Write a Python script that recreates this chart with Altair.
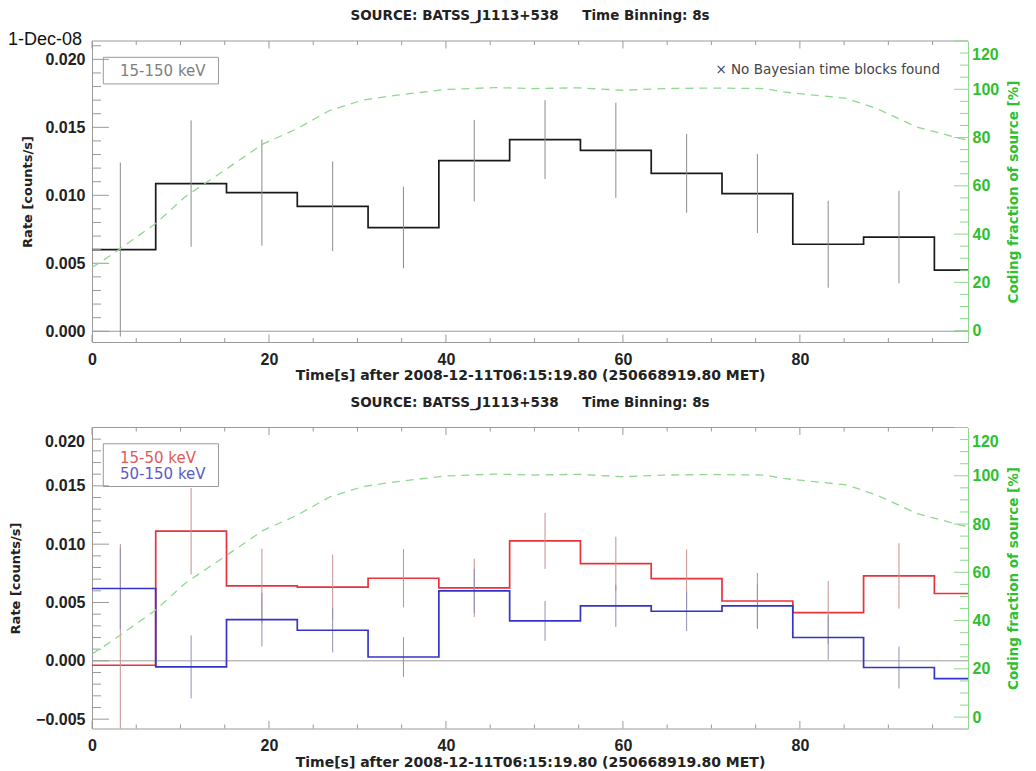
import altair as alt
import pandas as pd

W, H = 876, 301

# ---------------- data ----------------
EDGES = [0, 7.2, 15.2, 23.2, 31.2, 39.2, 47.2, 55.2, 63.2, 71.2, 79.2, 87.2, 95.2, 99]
CENTERS = [3.2, 11.2, 19.2, 27.2, 35.2, 43.2, 51.2, 59.2, 67.2, 75.2, 83.2, 91.2]

RATE_15_150 = [0.00601, 0.01086, 0.0102, 0.00919, 0.00763, 0.01255, 0.0141,
               0.01331, 0.01162, 0.01013, 0.0064, 0.00693, 0.00449]
ERR_15_150 = [0.0064, 0.00465, 0.0039, 0.0033, 0.003, 0.003, 0.0029,
              0.0035, 0.0029, 0.0029, 0.0032, 0.0034]

RATE_15_50 = [-0.00038, 0.01111, 0.00642, 0.00631, 0.00708, 0.00625, 0.01028,
              0.00834, 0.00705, 0.00513, 0.00414, 0.00728, 0.00577]
ERR_15_50 = [0.0104, 0.0037, 0.0032, 0.0028, 0.0025, 0.0025, 0.0024,
             0.0023, 0.0025, 0.0024, 0.0027, 0.0028]

RATE_50_150 = [0.0062, -0.00052, 0.00354, 0.00262, 0.00033, 0.00599, 0.00342,
               0.00471, 0.00425, 0.00471, 0.002, -0.00057, -0.00152]
ERR_50_150 = [0.0035, 0.0027, 0.0023, 0.0019, 0.0017, 0.0019, 0.0017,
              0.0018, 0.0017, 0.0019, 0.0019, 0.0018]

CF_T = [0, 2.0, 7.2, 10.5, 15.0, 19.3, 23.2, 26.9, 30.6, 34.3, 39.9, 45.5,
        50, 55, 60, 65, 70, 76.1, 78.1, 85.3, 88.7, 93.2, 98.1, 99]
CF_PCT = [26.2, 30.9, 44.4, 55.4, 66.5, 77.3, 83.7, 91.3, 95.5, 97.5, 99.9, 100.7,
          100.3, 100.6, 99.6, 100.3, 100.5, 100.3, 98.9, 96.2, 92.0, 84.4, 79.6, 79.0]

X_MAJOR = [0, 20, 40, 60, 80]
X_MINOR = [5, 10, 15, 25, 30, 35, 45, 50, 55, 65, 70, 75, 85, 90, 95]
P_MAJOR = [0, 20, 40, 60, 80, 100, 120]
P_MINOR = [5, 10, 15, 25, 30, 35, 45, 50, 55, 65, 70, 75, 85, 90, 95, 105, 110, 115]

TOP_Y_MAJOR = [0.0, 0.005, 0.01, 0.015, 0.02]
TOP_Y_MINOR = [0.001, 0.002, 0.003, 0.004, 0.006, 0.007, 0.008, 0.009, 0.011, 0.012,
               0.013, 0.014, 0.016, 0.017, 0.018, 0.019, 0.021]
BOT_Y_MAJOR = [-0.005, 0.0, 0.005, 0.01, 0.015, 0.02]
BOT_Y_MINOR = [-0.004, -0.003, -0.002, -0.001, 0.001, 0.002, 0.003, 0.004, 0.006,
               0.007, 0.008, 0.009, 0.011, 0.012, 0.013, 0.014, 0.016, 0.017,
               0.018, 0.019]

NB = "\u00a0"
TITLE = "SOURCE: BATSS_J1113+538" + NB * 5 + "Time Binning: 8s"
XTITLE = "Time[s] after 2008-12-11T06:15:19.80 (250668919.80 MET)"

FONT_T = "DejaVu Sans"
FONT_L = "Liberation Sans"
GREEN = "#2fbf2f"
LGREEN = "#8fd88f"
FRAME = "#9a9a9a"

ONE = pd.DataFrame({"a": [0]})


def text(txt, x, y, size, color="#222", weight="normal", font=FONT_T, align="left"):
    return alt.Chart(ONE).mark_text(
        text=txt, font=font, fontSize=size, fontWeight=weight, color=color,
        align=align, baseline="middle"
    ).encode(x=alt.value(x), y=alt.value(y))


def panel(ydom, ymaj, ymin, series, legend, ytitle_x, extra_top):
    xs = alt.Scale(domain=[0, 99], nice=False, zero=False)
    ys = alt.Scale(domain=ydom, nice=False, zero=False)
    ps = alt.Scale(domain=[-4.7, 120], nice=False, zero=False)

    # labels at the very top edge are drawn separately (pushed down like the original)
    flush_y = [v for v in ymaj if abs(v - ydom[1]) < 1e-9]
    y_lab = [v for v in ymaj if v not in flush_y]

    xaxis = alt.Axis(values=X_MAJOR, format="d", title=XTITLE, ticks=False,
                     domainColor=FRAME, grid=False, orient="bottom",
                     labelFont=FONT_L, labelFontSize=16, labelFontWeight="bold",
                     labelColor="#222", labelPadding=9, labelFlush=False,
                     titleFont=FONT_T, titleFontSize=14, titleFontWeight="bold",
                     titleColor="#222", titleY=33.5, titleBaseline="middle")
    yaxis = alt.Axis(values=y_lab, format=".3f", title="Rate [counts/s]", ticks=False,
                     domainColor=FRAME, grid=False, orient="left",
                     labelFont=FONT_L, labelFontSize=16, labelFontWeight="bold",
                     labelColor="#222", labelPadding=7, labelFlush=False,
                     titleFont=FONT_T, titleFontSize=13, titleFontWeight="bold",
                     titleColor="#222", titleX=ytitle_x, titleY=H / 2,
                     titleBaseline="middle", titleAlign="center", titleAngle=270)
    paxis = alt.Axis(orient="right", values=P_MAJOR[:-1], format="d",
                     title="Coding fraction of source [%]", ticks=False,
                     domainColor=LGREEN, grid=False,
                     labelFont=FONT_L, labelFontSize=16, labelFontWeight="bold",
                     labelColor=GREEN, labelPadding=4, labelFlush=False,
                     titleFont=FONT_T, titleFontSize=13.5, titleFontWeight="bold",
                     titleColor=GREEN, titleX=45, titleY=H / 2,
                     titleBaseline="middle", titleAlign="center", titleAngle=270)

    X = lambda f: alt.X(f, scale=xs, axis=xaxis)
    Y = lambda f: alt.Y(f, scale=ys, axis=yaxis)
    P = lambda f: alt.Y(f, scale=ps, axis=paxis)

    rl = []
    # step histograms
    steps = []
    for vals, errs, color, ecolor in series:
        sdf = pd.DataFrame({"t": EDGES, "rate": vals + [vals[-1]]})
        steps.append(alt.Chart(sdf).mark_line(
            interpolate="step-after", color=color, strokeWidth=1.7, clip=True).encode(
            x=X("t:Q"), y=Y("rate:Q")))
    rl.append(steps[0])
    # zero line
    rl.append(alt.Chart(pd.DataFrame({"v": [0.0]})).mark_rule(
        color=FRAME, strokeWidth=1).encode(y=Y("v:Q"), x=alt.value(0), x2=alt.value(W)))
    # inward ticks on the rate axis
    rl.append(alt.Chart(pd.DataFrame({"v": ymaj})).mark_rule(
        color=FRAME, strokeWidth=1).encode(y=Y("v:Q"), x=alt.value(0), x2=alt.value(17)))
    rl.append(alt.Chart(pd.DataFrame({"v": ymin})).mark_rule(
        color=FRAME, strokeWidth=1).encode(y=Y("v:Q"), x=alt.value(0), x2=alt.value(9)))
    # top-edge label of the rate axis
    if flush_y:
        rl.append(alt.Chart(pd.DataFrame({"v": flush_y})).mark_text(
            font=FONT_L, fontSize=16, fontWeight="bold", color="#222", align="right",
            baseline="middle", dy=14).encode(
            y=Y("v:Q"), x=alt.value(-7), text=alt.Text("v:Q", format=".3f")))
    # inward ticks on the time axis (bottom and top)
    for vals, ln in ((X_MAJOR, 7.5), (X_MINOR, 4)):
        d = pd.DataFrame({"v": vals})
        rl.append(alt.Chart(d).mark_rule(color=FRAME, strokeWidth=1).encode(
            x=X("v:Q"), y=alt.value(H - ln), y2=alt.value(H)))
        rl.append(alt.Chart(d).mark_rule(color=FRAME, strokeWidth=1).encode(
            x=X("v:Q"), y=alt.value(0), y2=alt.value(ln)))
    # top frame line
    rl.append(alt.Chart(ONE).mark_rule(color=FRAME, strokeWidth=1).encode(
        x=alt.value(0), x2=alt.value(W), y=alt.value(0)))
    # error bars
    for vals, errs, color, ecolor in series:
        edf = pd.DataFrame({
            "t": CENTERS,
            "lo": [v - e for v, e in zip(vals[:12], errs)],
            "hi": [v + e for v, e in zip(vals[:12], errs)],
        })
        rl.append(alt.Chart(edf).mark_rule(
            color=ecolor, strokeWidth=1, clip=True).encode(
            x=X("t:Q"), y=Y("lo:Q"), y2="hi:Q"))
    rl.extend(steps[1:])

    # legend box
    box_h = 26.6 if len(legend) == 1 else 42.7
    rl.append(alt.Chart(ONE).mark_rect(
        fillOpacity=0, stroke="#9a9a9a", strokeWidth=1).encode(
        x=alt.value(11.3), x2=alt.value(126.5), y=alt.value(16.3),
        y2=alt.value(16.3 + box_h)))
    for i, (txt, col) in enumerate(legend):
        rl.append(text(txt, 28, 30 + 16 * i if len(legend) > 1 else 29.8, 15, color=col))
    # title
    rl.append(text(TITLE, W / 2, -25, 13.5, weight="bold", align="center"))
    rl.extend(extra_top)

    cf = pd.DataFrame({"t": CF_T, "pct": CF_PCT})
    pl = [
        alt.Chart(cf).mark_line(color=LGREEN, strokeWidth=1.3, strokeDash=[8, 6],
                                clip=True).encode(x=X("t:Q"), y=P("pct:Q")),
        alt.Chart(pd.DataFrame({"v": P_MAJOR})).mark_rule(
            color=LGREEN, strokeWidth=1).encode(
            y=P("v:Q"), x=alt.value(W - 14), x2=alt.value(W)),
        alt.Chart(pd.DataFrame({"v": P_MINOR})).mark_rule(
            color=LGREEN, strokeWidth=1).encode(
            y=P("v:Q"), x=alt.value(W - 8), x2=alt.value(W)),
        alt.Chart(pd.DataFrame({"v": P_MAJOR[-1:]})).mark_text(
            font=FONT_L, fontSize=16, fontWeight="bold", color=GREEN, align="left",
            baseline="middle", dy=14).encode(
            y=P("v:Q"), x=alt.value(W + 4), text=alt.Text("v:Q", format="d")),
    ]

    return alt.layer(alt.layer(*rl), alt.layer(*pl)).resolve_scale(
        y="independent").properties(width=W, height=H)


top_extra = [
    text("1-Dec-08", -84, -0.7, 18, color="#111", font=FONT_L),
    text("\u00d7 No Bayesian time blocks found", W - 28, 29.3, 13.5, color="#444",
         align="right"),
]

top = panel([-0.00079, 0.02135], TOP_Y_MAJOR, TOP_Y_MINOR,
            [(RATE_15_150, ERR_15_150, "#1a1a1a", "#8c8c8c")],
            [("15-150 keV", "#808080")], -65, top_extra)

bottom = panel([-0.0058, 0.020], BOT_Y_MAJOR, BOT_Y_MINOR,
               [(RATE_15_50, ERR_15_50, "#e8323c", "#c49090"),
                (RATE_50_150, ERR_50_150, "#3434c8", "#9090b4")],
               [("15-50 keV", "#e05a5a"), ("50-150 keV", "#5a5ac8")], -77, [])

chart = alt.vconcat(top, bottom, spacing=12.5).properties(
    padding={"left": 0, "top": 1, "right": 5, "bottom": 0},
    background="white",
).configure_view(stroke=None)

chart.save("out.html", embed_options={"renderer": "svg", "actions": False})
